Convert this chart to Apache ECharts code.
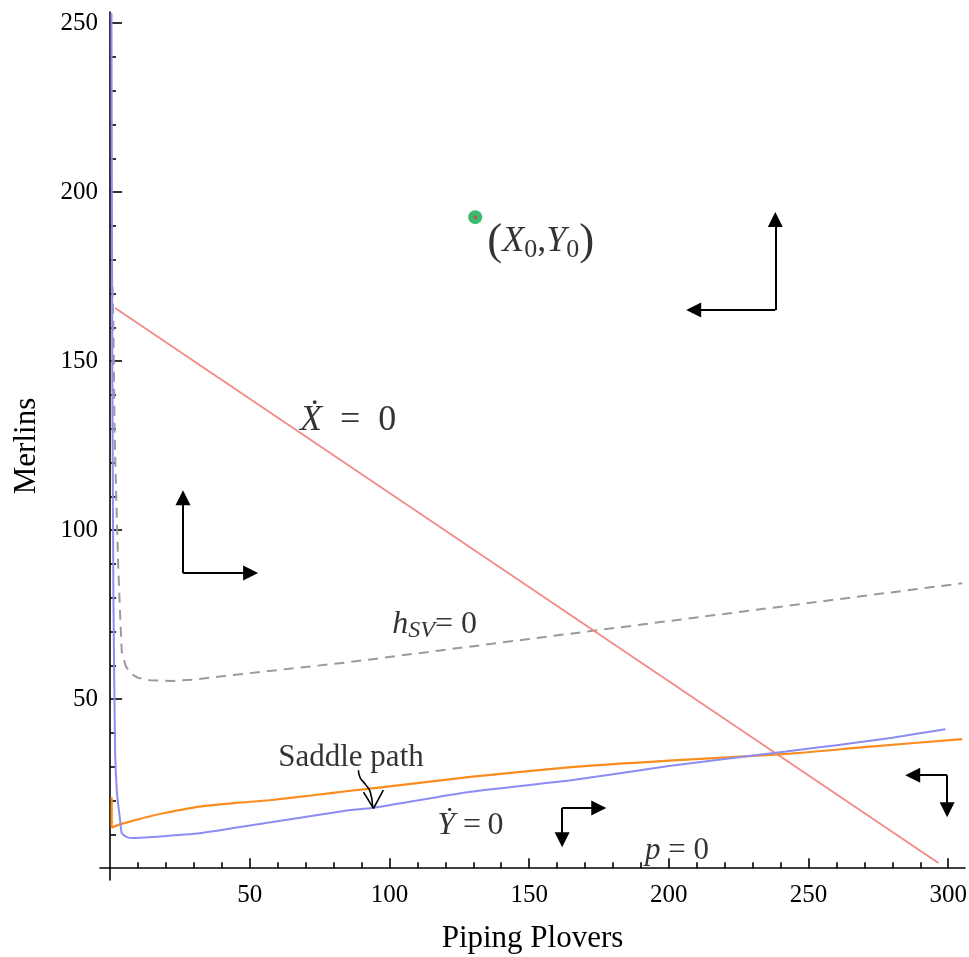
<!DOCTYPE html>
<html>
<head>
<meta charset="utf-8">
<script src="https://cdn.jsdelivr.net/npm/echarts@6/dist/echarts.min.js"></script>
<style>html,body{margin:0;padding:0;background:#fff}#c{width:969px;height:957px}</style>
</head>
<body>
<div id="c"></div>
<script>
// ---- axis ticks ----
const xTickLabels = [50, 100, 150, 200, 250, 300];
const xMinorTicks = [10, 20, 30, 40, 60, 70, 80, 90, 110, 120, 130, 140, 160, 170, 180, 190, 210, 220, 230, 240, 260, 270, 280, 290];
const yTickLabels = [50, 100, 150, 200, 250];
const yMinorTicks = [10, 20, 30, 40, 60, 70, 80, 90, 110, 120, 130, 140, 160, 170, 180, 190, 210, 220, 230, 240];

// ---- curves ----
const redX = [1.8, 296.5];
const redY = [165.7, 1.5];

const grayX = [0.9, 1.2, 1.6, 2.2, 2.9, 3.6, 4.2, 5.5, 7.2, 10, 14.3, 22, 30, 50, 86, 150, 230, 305];
const grayY = [172, 160, 130, 110, 90, 75, 64, 60, 57.7, 56.3, 55.6, 55.4, 55.8, 57.7, 61, 67.8, 76.3, 84.3];

const orangeX = [0.6, 0.6, 4, 8, 14, 20, 32, 45, 57, 72, 86, 100, 129, 165, 200, 242, 270, 305];
const orangeY = [21, 12, 13.1, 14, 15.3, 16.4, 18.2, 19.3, 20.1, 21.5, 22.9, 24.2, 27, 29.9, 31.8, 33.8, 35.8, 38.2];

const blueX = [0.5, 0.8, 1.2, 1.8, 2.5, 3.6, 4.2, 6, 8.3, 15, 32, 57, 86, 93, 129, 165, 200, 220, 242, 260, 280, 299];
const blueY = [253, 150, 80, 35, 22, 14.2, 10.3, 9.2, 8.9, 9.2, 10.3, 13.5, 17.2, 17.7, 22.6, 26, 30.2, 32.3, 34.5, 36.4, 38.6, 41.1];

// ---- initial point ----
const pointX = [130.7];
const pointY = [192.6];

// ---- direction arrows (corner, horizontal tip x, vertical tip y) ----
const arrowCornerX = [238.1, 26.1, 161.8, 299.6];
const arrowCornerY = [165.1, 87.3, 17.8, 27.5];
const arrowHTipX = [206.2, 53, 177.6, 284.6];
const arrowVTipY = [194.1, 111.8, 6.2, 15.1];

// ---- saddle path pointer ----
const squigX = [88.9, 89.5, 91.4, 93.1, 94.0];
const squigY = [29.0, 26.8, 24.8, 22.6, 18.1];
const headX = [90.7, 94.3, 97.8];
const headY = [22.5, 17.7, 23.1];

// ---- text annotations ----
const labelX = [135, 68, 101, 60.2, 117.1, 191.5];
const labelY = [185.3, 132.4, 72.2, 32.5, 12.7, 5.0];
const labelText = [
  '{pa|(}{ia|X}{sa|0}{na|,}{ia|Y}{sa|0}{pa|)}',
  '{ia|\u1E8A}{na|  =  0}',
  '{ib|h}{sb|SV}{nb|= 0}',
  '{nd|Saddle path}',
  '{ib|\u1E8E}{nb| =\u20090}',
  '{ic|p}{nc| = 0}'
];

const SERIF = "'Liberation Serif', 'DejaVu Serif', serif";
const zip = (xs, ys) => xs.map((x, i) => [x, ys[i]]);

// arrow segments (head size offset so triangle tip lands on tip coordinate)
const HEAD = 15;
const hx = (HEAD / 2) / 2.793, hy = (HEAD / 2) / 3.38;
const arrowSegs = [];
arrowCornerX.forEach((cx, i) => {
  const cy = arrowCornerY[i];
  const tx = arrowHTipX[i];
  const ty = arrowVTipY[i];
  const sx = Math.sign(tx - cx), sy = Math.sign(ty - cy);
  arrowSegs.push([{ coord: [cx, cy] }, { coord: [tx - sx * hx, cy] }]);
  arrowSegs.push([{ coord: [cx, cy] }, { coord: [cx, ty - sy * hy] }]);
});

const rich = {
  pa: { fontFamily: SERIF, fontSize: 45, color: '#000' },
  ia: { fontFamily: SERIF, fontStyle: 'italic', fontSize: 36, color: '#000' },
  na: { fontFamily: SERIF, fontSize: 36, color: '#000' },
  sa: { fontFamily: SERIF, fontSize: 26, color: '#000', padding: [16, 0, 0, 0] },
  ib: { fontFamily: SERIF, fontStyle: 'italic', fontSize: 32, color: '#000' },
  nb: { fontFamily: SERIF, fontSize: 32, color: '#000' },
  sb: { fontFamily: SERIF, fontStyle: 'italic', fontSize: 24, color: '#000', padding: [14, 0, 0, 0] },
  ic: { fontFamily: SERIF, fontStyle: 'italic', fontSize: 31, color: '#000' },
  nc: { fontFamily: SERIF, fontSize: 31, color: '#000' },
  nd: { fontFamily: SERIF, fontSize: 31, color: '#000' }
};

const axisCommon = {
  type: 'value',
  splitLine: { show: false }
};

const chart = echarts.init(document.getElementById('c'), null, { renderer: 'canvas' });
chart.setOption({
  animation: false,
  backgroundColor: '#fff',
  grid: { left: 100, right: 4, top: 12, bottom: 77, containLabel: false, outerBoundsMode: 'none' },
  xAxis: [
    Object.assign({}, axisCommon, {
      min: -3.6, max: 306, position: 'bottom',
      axisLine: { show: true, onZero: true, onZeroAxisIndex: 0, lineStyle: { color: '#000', width: 1.6 } },
      axisTick: { show: true, inside: true, length: 10, customValues: xTickLabels, lineStyle: { color: '#000', width: 1.6 } },
      axisLabel: { show: true, customValues: xTickLabels, margin: 3, fontFamily: SERIF, fontSize: 25, color: '#000' },
      name: 'Piping Plovers', nameLocation: 'middle', nameGap: 43, nameMoveOverlap: false,
      nameTextStyle: { fontFamily: SERIF, fontSize: 31, color: '#000' }
    }),
    Object.assign({}, axisCommon, {
      min: -3.6, max: 306, position: 'bottom',
      axisLine: { show: false, onZero: true, onZeroAxisIndex: 0 },
      axisTick: { show: true, inside: true, length: 6, customValues: xMinorTicks, lineStyle: { color: '#000', width: 1.6 } },
      axisLabel: { show: false }
    })
  ],
  yAxis: [
    Object.assign({}, axisCommon, {
      min: -3.5, max: 253.3, position: 'left',
      axisLine: { show: true, onZero: true, onZeroAxisIndex: 0, lineStyle: { color: '#000', width: 1.6 } },
      axisTick: { show: true, inside: true, length: 12, customValues: yTickLabels, lineStyle: { color: '#000', width: 1.6 } },
      axisLabel: { show: true, customValues: yTickLabels, margin: 2, fontFamily: SERIF, fontSize: 25, color: '#000' },
      name: 'Merlins', nameLocation: 'middle', nameGap: 58, nameMoveOverlap: false,
      nameTextStyle: { fontFamily: SERIF, fontSize: 31, color: '#000' }
    }),
    Object.assign({}, axisCommon, {
      min: -3.5, max: 253.3, position: 'left',
      axisLine: { show: false, onZero: true, onZeroAxisIndex: 0 },
      axisTick: { show: true, inside: true, length: 6, customValues: yMinorTicks, lineStyle: { color: '#000', width: 1.6 } },
      axisLabel: { show: false }
    })
  ],
  series: [
    {
      name: 'hSV', type: 'line', data: zip(grayX, grayY), showSymbol: false, silent: true,
      lineStyle: { color: '#9a9a9a', width: 2, type: [10, 7] }
    },
    {
      name: 'Xdot', type: 'line', data: zip(redX, redY), showSymbol: false, silent: true,
      lineStyle: { color: '#f28a8a', width: 1.8 }
    },
    {
      name: 'saddle', type: 'line', data: zip(orangeX, orangeY), showSymbol: false, silent: true, smooth: 0.2,
      lineStyle: { color: '#fb8c1e', width: 2.2 }
    },
    {
      name: 'Ydot', type: 'line', data: zip(blueX, blueY), showSymbol: false, silent: true, smooth: 0.15,
      lineStyle: { color: '#8c8cf2', width: 2 }
    },
    {
      name: 'arrows', type: 'line', data: [], silent: true,
      markLine: {
        silent: true, symbol: ['none', 'triangle'], symbolSize: HEAD,
        label: { show: false },
        lineStyle: { color: '#000', width: 2, type: 'solid' },
        emphasis: { disabled: true },
        data: arrowSegs
      }
    },
    {
      name: 'squiggle', type: 'line', data: zip(squigX, squigY), showSymbol: false, silent: true, smooth: true,
      lineStyle: { color: '#000', width: 1.6 }
    },
    {
      name: 'head', type: 'line', data: zip(headX, headY), showSymbol: false, silent: true,
      lineStyle: { color: '#000', width: 1.6 }
    },
    {
      name: 'x0', type: 'scatter', data: zip(pointX, pointY), symbolSize: 14, silent: true,
      itemStyle: { color: '#0aa84a' }
    },
    {
      name: 'x0c', type: 'scatter', data: zip(pointX, pointY), symbolSize: 4, silent: true,
      itemStyle: { color: '#c05050' }
    },
    {
      name: 'labels', type: 'scatter', symbolSize: 0, silent: true,
      data: labelX.map((x, i) => ({ value: [x, labelY[i]], label: { formatter: labelText[i] } })),
      label: { show: true, position: 'inside', align: 'left', verticalAlign: 'middle', color: '#000', textBorderWidth: 0, rich: rich }
    }
  ]
});
</script>
</body>
</html>
